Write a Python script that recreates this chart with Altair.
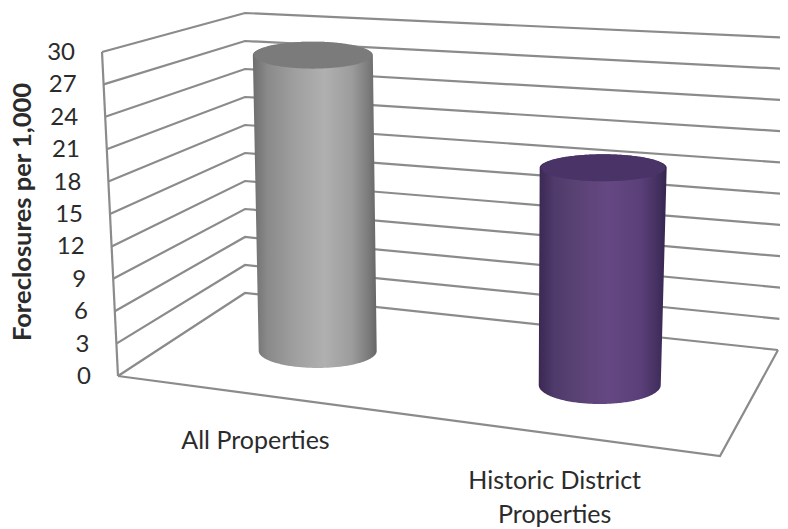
import math
import altair as alt
import pandas as pd

# --- chart values ---
CATEGORIES = ["All Properties", "Historic District Properties"]
CATEGORY_LINES = [["All Properties"], ["Historic District", "Properties"]]
VALUES = [28.6, 19.9]
TICKS = [0, 3, 6, 9, 12, 15, 18, 21, 24, 27, 30]
AXIS_TITLE = "Foreclosures per 1,000"

# --- projection of the 3D box onto the page ---
VMAX = 30
FLOOR = {"FL": (118, 376), "FR": (720, 456), "BL": (245, 293), "BR": (778, 350)}
CEIL = {"FL": (102, 52), "FR": (736, 95), "BL": (245, 13), "BR": (792, 38)}
CAT_U = [0.24, 0.737]
DEPTH = 0.5
TOP_LEAN = 2.5


def project(u, d, v):
    t = v / VMAX
    pts = []
    for c in (FLOOR, CEIL):
        k = []
        for i in range(2):
            front = c["FL"][i] + (c["FR"][i] - c["FL"][i]) * u
            back = c["BL"][i] + (c["BR"][i] - c["BL"][i]) * u
            k.append(front + (back - front) * d)
        pts.append(k)
    return (pts[0][0] + (pts[1][0] - pts[0][0]) * t, pts[0][1] + (pts[1][1] - pts[0][1]) * t)


W, H = 772, 521
xs = alt.Scale(domain=[8, 8 + W], range=[0, W])
ys = alt.Scale(domain=[8, 8 + H], range=[0, H])
X = alt.X("x:Q", scale=xs, axis=None)
Y = alt.Y("y:Q", scale=ys, axis=None)

GRID = "#8b8b8b"

# walls: one polyline per tick
rows = []
for v in TICKS:
    for o, (u, d) in enumerate([(0, 0), (0, 1), (1, 1)]):
        x, y = project(u, d, v)
        rows.append({"g": f"t{v}", "o": o, "x": x, "y": y})
# floor outline
for o, (u, d) in enumerate([(0, 0), (1, 0), (1, 1)]):
    x, y = project(u, d, 0)
    rows.append({"g": "floor", "o": o, "x": x, "y": y})
# left edge of the value axis
for o, v in enumerate([0, VMAX]):
    x, y = project(0, 0, v)
    rows.append({"g": "edge", "o": o, "x": x, "y": y})

grid = alt.Chart(pd.DataFrame(rows)).mark_line(color=GRID, strokeWidth=2.2, clip=True).encode(
    x=X, y=Y, detail="g:N", order="o:Q"
)


def grad(stops):
    return alt.Gradient(
        gradient="linear", x1=0, x2=1, y1=0, y2=0,
        stops=[alt.GradientStop(offset=o, color=c) for o, c in stops],
    )


STYLES = [
    {"a": (60, 59), "b": (13.5, 17), "cap": "#7b7b7b",
     "stops": [(0, "#6e6e6e"), (0.12, "#8a8a8a"), (0.35, "#a0a0a0"), (0.58, "#b0b0b0"),
               (0.8, "#9c9c9c"), (0.93, "#7c7c7c"), (1, "#666666")]},
    {"a": (63.5, 61), "b": (13.5, 19), "cap": "#4a3366",
     "stops": [(0, "#3a2852"), (0.12, "#4f3a6c"), (0.3, "#5a4274"), (0.55, "#654883"),
               (0.8, "#5a3f78"), (0.93, "#443060"), (1, "#35254e")]},
]

layers = [grid]
N = 60
for u, val, st in zip(CAT_U, VALUES, STYLES):
    xb, yb = project(u, DEPTH, 0)
    xt, yt = project(u, DEPTH, val)
    xt -= TOP_LEAN
    at, ab = st["a"]
    bt, bb = st["b"]
    body = []
    for i in range(N + 1):  # upper half of the top ellipse
        th = math.pi / 2 * i / N
        body.append({"y": yt - bt * math.cos(th), "cx": xt, "hw": at * math.sin(th)})
    for i in range(1, N + 1):  # side walls
        f = i / N
        body.append({"y": yt + (yb - yt) * f, "cx": xt + (xb - xt) * f, "hw": at + (ab - at) * f})
    for i in range(1, N + 1):  # lower half of the bottom ellipse
        th = math.pi / 2 * i / N
        body.append({"y": yb + bb * math.sin(th), "cx": xb, "hw": ab * math.cos(th)})
    df = pd.DataFrame(body)
    df["x"] = df.cx - df.hw
    df["xr"] = df.cx + df.hw
    layers.append(
        alt.Chart(df[["x", "xr", "y"]]).mark_area(orient="horizontal", opacity=1, color=grad(st["stops"])).encode(
            y=Y, x=X, x2="xr:Q"
        )
    )
    cap = []
    for i in range(2 * N + 1):
        th = math.pi * i / (2 * N)
        cap.append({"y": yt - bt * math.cos(th), "x": xt - at * math.sin(th) * 0.98,
                    "xr": xt + at * math.sin(th) * 0.98})
    layers.append(
        alt.Chart(pd.DataFrame(cap)).mark_area(orient="horizontal", opacity=1, color=st["cap"]).encode(
            y=Y, x=X, x2="xr:Q"
        )
    )

FONT = "Lato"
INK = "#2b2b2b"

tick_rows = []
for v in TICKS:
    x, y = project(0, 0, v)
    tick_rows.append({"x": x - 27, "y": y + 1, "label": str(v)})
layers.append(
    alt.Chart(pd.DataFrame(tick_rows))
    .mark_text(font=FONT, fontSize=24, color=INK, align="right", baseline="middle")
    .encode(x=X, y=Y, text="label:N")
)

cat_rows = []
for u, lines in zip(CAT_U, CATEGORY_LINES):
    x, y = project(u, 0, 0)
    for i, line in enumerate(lines):
        cat_rows.append({"x": x - 7, "y": y + 46 + 34 * i, "label": line})
layers.append(
    alt.Chart(pd.DataFrame(cat_rows))
    .mark_text(font=FONT, fontSize=25, color=INK, align="center", baseline="middle")
    .encode(x=X, y=Y, text="label:N")
)

layers.append(
    alt.Chart(pd.DataFrame([{"x": 23, "y": 212, "label": AXIS_TITLE}]))
    .mark_text(font=FONT, fontSize=25.5, fontWeight="bold", color=INK, angle=270,
               align="center", baseline="middle")
    .encode(x=X, y=Y, text="label:N")
)

chart = (
    alt.layer(*layers)
    .properties(width=W, height=H, padding=0, autosize=alt.AutoSizeParams(type="none"), background="white")
    .configure_view(stroke=None)
)
chart.save("out.html", embed_options={"renderer": "svg", "actions": False})
